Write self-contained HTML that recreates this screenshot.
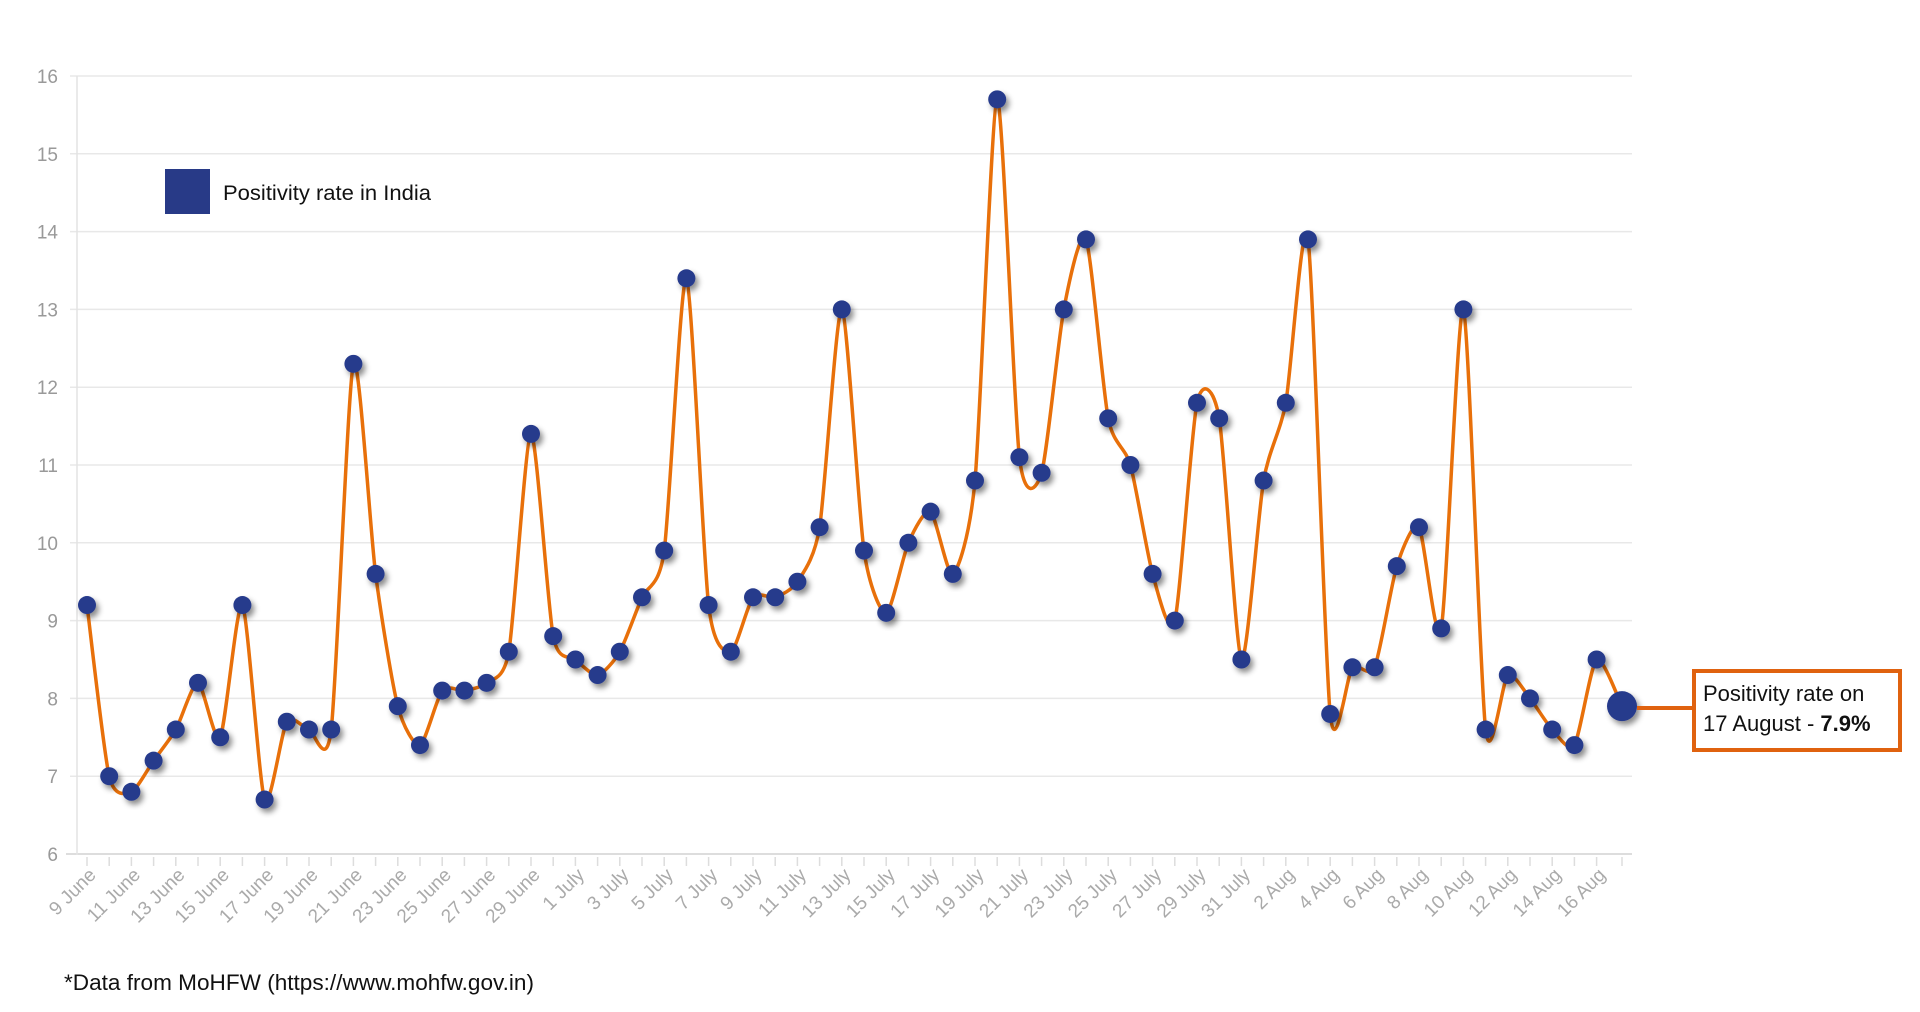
<!DOCTYPE html>
<html><head><meta charset="utf-8"><style>
html,body{margin:0;padding:0;background:#fff;}
svg{display:block;font-family:"Liberation Sans",sans-serif;}
</style></head><body>
<svg id="c" width="1920" height="1012" viewBox="0 0 1920 1012" xmlns="http://www.w3.org/2000/svg">
<defs>
<filter id="sh" x="-50%" y="-50%" width="200%" height="200%"><feDropShadow dx="3" dy="4" stdDeviation="3" flood-color="#000" flood-opacity="0.45"/></filter>
</defs>
<g id="grid"></g>
<rect x="165" y="169" width="45" height="45" fill="#283A87"/>
<text x="223" y="200" font-size="21" fill="#111" textLength="208" lengthAdjust="spacingAndGlyphs">Positivity rate in India</text>
<path id="line" fill="none" stroke="#E8700A" stroke-width="3.5"/>
<g id="dots"></g>
<line x1="1637" y1="708" x2="1692" y2="708" stroke="#E0620F" stroke-width="4"/>
<rect x="1694" y="671" width="206" height="79" fill="#fff" stroke="#E0620F" stroke-width="4"/>
<text x="1703" y="701" font-size="22" fill="#111">Positivity rate on</text>
<text x="1703" y="731" font-size="22" fill="#111">17 August - <tspan font-weight="bold">7.9%</tspan></text>
<text x="64" y="990" font-size="22" fill="#111" textLength="470" lengthAdjust="spacingAndGlyphs">*Data from MoHFW (https://www.mohfw.gov.in)</text>
</svg>
<script>
var d=[9.2,7.0,6.8,7.2,7.6,8.2,7.5,9.2,6.7,7.7,7.6,7.6,12.3,9.6,7.9,7.4,8.1,8.1,8.2,8.6,11.4,8.8,8.5,8.3,8.6,9.3,9.9,13.4,9.2,8.6,9.3,9.3,9.5,10.2,13.0,9.9,9.1,10.0,10.4,9.6,10.8,15.7,11.1,10.9,13.0,13.9,11.6,11.0,9.6,9.0,11.8,11.6,8.5,10.8,11.8,13.9,7.8,8.4,8.4,9.7,10.2,8.9,13.0,7.6,8.3,8.0,7.6,7.4,8.5,7.9];
var jm=["9 June","11 June","13 June","15 June","17 June","19 June","21 June","23 June","25 June","27 June","29 June","1 July","3 July","5 July","7 July","9 July","11 July","13 July","15 July","17 July","19 July","21 July","23 July","25 July","27 July","29 July","31 July","2 Aug","4 Aug","6 Aug","8 Aug","10 Aug","12 Aug","14 Aug","16 Aug"];
function X(i){return i==69?1622:87+22.2*i;}
function Y(v){return 854-77.8*(v-6);}
var g=document.getElementById('grid'),s='';
for(var v=6;v<=16;v++){var y=Y(v);s+='<line x1="'+(v==6?66:70)+'" y1="'+y+'" x2="1632" y2="'+y+'" stroke="'+(v==6?'#ddd':'#e8e8e8')+'" stroke-width="'+(v==6?2:1.5)+'"/>';
s+='<text x="58" y="'+(y+7)+'" font-size="19" fill="#999" text-anchor="end">'+v+'</text>';}
s+='<line x1="77" y1="76" x2="77" y2="855" stroke="#e3e3e3" stroke-width="1.5"/>';
for(var i=0;i<70;i++){s+='<line x1="'+X(i)+'" y1="857" x2="'+X(i)+'" y2="866" stroke="#ddd" stroke-width="1.5"/>';}
for(var k=0;k<jm.length;k++){var x=X(2*k)+10,y=876;s+='<text transform="translate('+x+','+y+') rotate(-45)" font-size="19" fill="#aaa" text-anchor="end">'+jm[k]+'</text>';}
g.innerHTML=s;
var p=[];for(var i=0;i<d.length;i++)p.push([X(i),Y(d[i])]);
var path='M'+p[0][0]+','+p[0][1];var t=0.12;
for(var i=0;i<p.length-1;i++){var p0=p[i-1]||p[i],p1=p[i],p2=p[i+1],p3=p[i+2]||p2;
var c1x=p1[0]+(p2[0]-p0[0])*t,c1y=p1[1]+(p2[1]-p0[1])*t,c2x=p2[0]-(p3[0]-p1[0])*t,c2y=p2[1]-(p3[1]-p1[1])*t;
path+=' C'+c1x+','+c1y+' '+c2x+','+c2y+' '+p2[0]+','+p2[1];}
document.getElementById('line').setAttribute('d',path);
var ds='';for(var i=0;i<p.length;i++){ds+='<circle cx="'+p[i][0]+'" cy="'+p[i][1]+'" r="'+(i==69?15:9)+'" fill="#283A8C" filter="url(#sh)"/>';}
document.getElementById('dots').innerHTML=ds;
</script>
</body></html>
